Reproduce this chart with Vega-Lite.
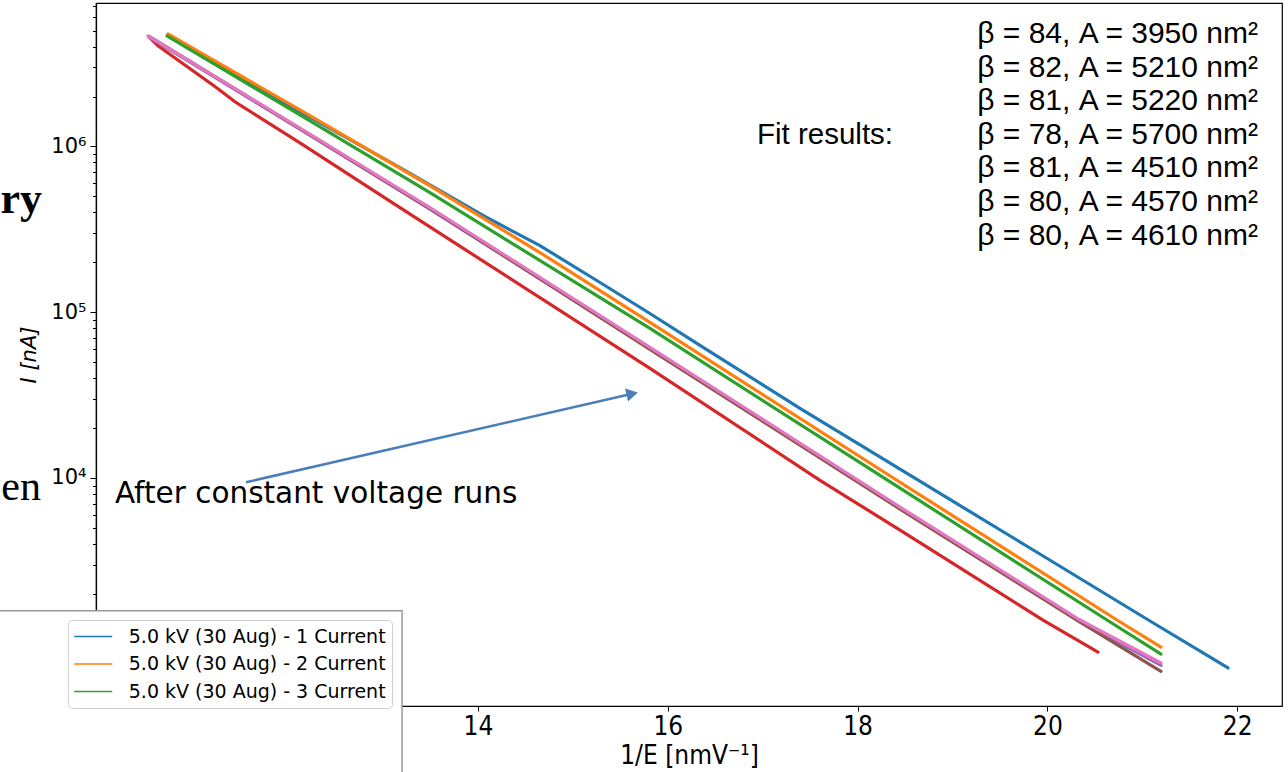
{
  "$schema": "https://vega.github.io/schema/vega-lite/v6.json",
  "width": 1186,
  "height": 703,
  "autosize": {"type": "none"},
  "padding": {"left": 96, "top": 3, "right": 6, "bottom": 66},
  "background": "white",
  "config": {
    "view": {"stroke": "black", "strokeWidth": 1.2},
    "font": "DejaVu Sans"
  },
  "encoding": {
    "x": {
      "field": "x", "type": "quantitative",
      "scale": {"domain": [9.975, 22.472], "nice": false, "zero": false},
      "axis": {
        "title": "1/E [nmV⁻¹]", "values": [14, 16, 18, 20, 22], "grid": false,
        "tickSize": 5, "tickColor": "black", "domainColor": "black", "domainWidth": 1.2,
        "labelFont": "Liberation Sans Narrow, DejaVu Sans Condensed, sans-serif", "labelFontSize": 26, "labelColor": "black", "labelPadding": 2,
        "titleFont": "Liberation Sans Narrow, DejaVu Sans Condensed, sans-serif", "titleFontSize": 26, "titleFontWeight": "normal", "titleColor": "black", "titlePadding": 3,
        "zindex": 0
      }
    },
    "y": {
      "field": "y", "type": "quantitative",
      "scale": {"type": "log", "domain": [421, 7330000], "nice": false},
      "axis": {
        "title": "I [nA]",
        "values": [500, 600, 700, 800, 900, 1000, 2000, 3000, 4000, 5000, 6000, 7000, 8000, 9000, 10000, 20000, 30000, 40000, 50000, 60000, 70000, 80000, 90000, 100000, 200000, 300000, 400000, 500000, 600000, 700000, 800000, 900000, 1000000, 2000000, 3000000, 4000000, 5000000, 6000000, 7000000],
        "labelExpr": "datum.value == 1000000 ? '10⁶' : datum.value == 100000 ? '10⁵' : datum.value == 10000 ? '10⁴' : datum.value == 1000 ? '10³' : ''",
        "grid": false,
        "tickSize": {"condition": {"test": "indexof([1000, 10000, 100000, 1000000], datum.value) >= 0", "value": 6}, "value": 3.5},
        "tickColor": "black", "domainColor": "black", "domainWidth": 1.2,
        "labelFont": "DejaVu Sans", "labelFontSize": 21, "labelColor": "black", "labelPadding": 4,
        "titleFont": "DejaVu Sans", "titleFontSize": 21, "titleFontStyle": "italic", "titleFontWeight": "normal", "titleColor": "black", "titlePadding": 11,
        "zindex": 0
      }
    }
  },
  "layer": [
    {
      "data": {"values": [
        {"series": "5.0 kV (30 Aug) - 1 Current", "x": 10.755, "y": 4650000},
        {"series": "5.0 kV (30 Aug) - 1 Current", "x": 10.965, "y": 3950000},
        {"series": "5.0 kV (30 Aug) - 1 Current", "x": 12.124, "y": 1620000},
        {"series": "5.0 kV (30 Aug) - 1 Current", "x": 13.178, "y": 745000},
        {"series": "5.0 kV (30 Aug) - 1 Current", "x": 14.053, "y": 383000},
        {"series": "5.0 kV (30 Aug) - 1 Current", "x": 14.653, "y": 252000},
        {"series": "5.0 kV (30 Aug) - 1 Current", "x": 15.286, "y": 151000},
        {"series": "5.0 kV (30 Aug) - 1 Current", "x": 15.812, "y": 98200},
        {"series": "5.0 kV (30 Aug) - 1 Current", "x": 16.339, "y": 63100},
        {"series": "5.0 kV (30 Aug) - 1 Current", "x": 17.393, "y": 26300},
        {"series": "5.0 kV (30 Aug) - 1 Current", "x": 18.447, "y": 11300},
        {"series": "5.0 kV (30 Aug) - 1 Current", "x": 19.764, "y": 3940},
        {"series": "5.0 kV (30 Aug) - 1 Current", "x": 21.081, "y": 1371},
        {"series": "5.0 kV (30 Aug) - 1 Current", "x": 21.903, "y": 714},
        {"series": "5.0 kV (30 Aug) - 2 Current", "x": 10.733, "y": 4770000},
        {"series": "5.0 kV (30 Aug) - 2 Current", "x": 12.124, "y": 1660000},
        {"series": "5.0 kV (30 Aug) - 2 Current", "x": 13.494, "y": 579000},
        {"series": "5.0 kV (30 Aug) - 2 Current", "x": 14.653, "y": 229000},
        {"series": "5.0 kV (30 Aug) - 2 Current", "x": 15.812, "y": 86700},
        {"series": "5.0 kV (30 Aug) - 2 Current", "x": 18.447, "y": 9420},
        {"series": "5.0 kV (30 Aug) - 2 Current", "x": 20.733, "y": 1390},
        {"series": "5.0 kV (30 Aug) - 2 Current", "x": 21.197, "y": 955},
        {"series": "5.0 kV (30 Aug) - 3 Current", "x": 10.723, "y": 4640000},
        {"series": "5.0 kV (30 Aug) - 3 Current", "x": 12.124, "y": 1550000},
        {"series": "5.0 kV (30 Aug) - 3 Current", "x": 13.494, "y": 526000},
        {"series": "5.0 kV (30 Aug) - 3 Current", "x": 15.812, "y": 79800},
        {"series": "5.0 kV (30 Aug) - 3 Current", "x": 18.447, "y": 8670},
        {"series": "5.0 kV (30 Aug) - 3 Current", "x": 20.628, "y": 1390},
        {"series": "5.0 kV (30 Aug) - 3 Current", "x": 21.197, "y": 865},
        {"series": "5.0 kV (30 Aug) - 4 Current", "x": 10.544, "y": 4520000},
        {"series": "5.0 kV (30 Aug) - 4 Current", "x": 10.628, "y": 4050000},
        {"series": "5.0 kV (30 Aug) - 4 Current", "x": 11.25, "y": 2250000},
        {"series": "5.0 kV (30 Aug) - 4 Current", "x": 11.439, "y": 1860000},
        {"series": "5.0 kV (30 Aug) - 4 Current", "x": 12.124, "y": 1050000},
        {"series": "5.0 kV (30 Aug) - 4 Current", "x": 13.178, "y": 427000},
        {"series": "5.0 kV (30 Aug) - 4 Current", "x": 15.812, "y": 45800},
        {"series": "5.0 kV (30 Aug) - 4 Current", "x": 17.604, "y": 9680},
        {"series": "5.0 kV (30 Aug) - 4 Current", "x": 18.447, "y": 4840},
        {"series": "5.0 kV (30 Aug) - 4 Current", "x": 19.954, "y": 1390},
        {"series": "5.0 kV (30 Aug) - 4 Current", "x": 20.533, "y": 891},
        {"series": "5.0 kV (30 Aug) - 5 Current", "x": 10.53, "y": 4580000},
        {"series": "5.0 kV (30 Aug) - 5 Current", "x": 12.124, "y": 1270000},
        {"series": "5.0 kV (30 Aug) - 5 Current", "x": 13.494, "y": 419000},
        {"series": "5.0 kV (30 Aug) - 5 Current", "x": 15.812, "y": 60200},
        {"series": "5.0 kV (30 Aug) - 5 Current", "x": 18.447, "y": 6540},
        {"series": "5.0 kV (30 Aug) - 5 Current", "x": 20.344, "y": 1360},
        {"series": "5.0 kV (30 Aug) - 5 Current", "x": 21.197, "y": 740},
        {"series": "5.0 kV (30 Aug) - 6 Current", "x": 10.544, "y": 4580000},
        {"series": "5.0 kV (30 Aug) - 6 Current", "x": 12.124, "y": 1280000},
        {"series": "5.0 kV (30 Aug) - 6 Current", "x": 13.494, "y": 422000},
        {"series": "5.0 kV (30 Aug) - 6 Current", "x": 15.812, "y": 59700},
        {"series": "5.0 kV (30 Aug) - 6 Current", "x": 18.447, "y": 6490},
        {"series": "5.0 kV (30 Aug) - 6 Current", "x": 20.344, "y": 1350},
        {"series": "5.0 kV (30 Aug) - 6 Current", "x": 21.197, "y": 682},
        {"series": "5.0 kV (30 Aug) - 7 Current", "x": 10.523, "y": 4640000},
        {"series": "5.0 kV (30 Aug) - 7 Current", "x": 12.124, "y": 1290000},
        {"series": "5.0 kV (30 Aug) - 7 Current", "x": 13.494, "y": 427000},
        {"series": "5.0 kV (30 Aug) - 7 Current", "x": 15.812, "y": 61400},
        {"series": "5.0 kV (30 Aug) - 7 Current", "x": 18.447, "y": 6670},
        {"series": "5.0 kV (30 Aug) - 7 Current", "x": 20.344, "y": 1390},
        {"series": "5.0 kV (30 Aug) - 7 Current", "x": 21.197, "y": 765}
      ]},
      "mark": {"type": "line", "strokeWidth": 3.2, "strokeCap": "round"},
      "encoding": {
        "color": {
          "field": "series", "type": "nominal",
          "scale": {
            "domain": ["5.0 kV (30 Aug) - 1 Current", "5.0 kV (30 Aug) - 2 Current", "5.0 kV (30 Aug) - 3 Current", "5.0 kV (30 Aug) - 4 Current", "5.0 kV (30 Aug) - 5 Current", "5.0 kV (30 Aug) - 6 Current", "5.0 kV (30 Aug) - 7 Current"],
            "range": ["#1f77b4", "#ff7f0e", "#2ca02c", "#d62728", "#9467bd", "#8c564b", "#e377c2"]
          },
          "legend": {
            "values": ["5.0 kV (30 Aug) - 1 Current", "5.0 kV (30 Aug) - 2 Current", "5.0 kV (30 Aug) - 3 Current"],
            "orient": "none", "legendX": -28, "legendY": 617, "title": null,
            "symbolType": "M-2,0H2", "symbolStrokeWidth": 1.5, "symbolSize": 361, "symbolOffset": 8.75,
            "labelFont": "DejaVu Sans", "labelFontSize": 19, "labelColor": "black", "labelLimit": 400,
            "fillColor": "white", "strokeColor": "#d0d0d0", "cornerRadius": 4, "padding": 6,
            "rowPadding": 6.5, "labelOffset": 25, "zindex": 1
          }
        }
      }
    },
    {
      "data": {"values": [{"x": 8.85, "xe": 13.2, "y": 1581, "ye": 150}]},
      "mark": {"type": "rect", "fill": "white", "stroke": "#999999", "strokeWidth": 1.5},
      "encoding": {"x2": {"field": "xe"}, "y2": {"field": "ye"}}
    },
    {
      "data": {"values": [
        {"x": 22.219, "y": 4770000, "text": "β = 84, A = 3950 nm²"},
        {"x": 22.219, "y": 2990000, "text": "β = 82, A = 5210 nm²"},
        {"x": 22.219, "y": 1870000, "text": "β = 81, A = 5220 nm²"},
        {"x": 22.219, "y": 1170000, "text": "β = 78, A = 5700 nm²"},
        {"x": 22.219, "y": 736000, "text": "β = 81, A = 4510 nm²"},
        {"x": 22.219, "y": 461000, "text": "β = 80, A = 4570 nm²"},
        {"x": 22.219, "y": 289000, "text": "β = 80, A = 4610 nm²"}
      ]},
      "mark": {"type": "text", "align": "right", "baseline": "middle", "font": "Liberation Sans", "fontSize": 30, "color": "black"},
      "encoding": {"text": {"field": "text"}}
    },
    {
      "data": {"values": [{"x": 16.94, "y": 1170000, "text": "Fit results:"}]},
      "mark": {"type": "text", "align": "left", "baseline": "middle", "font": "Liberation Sans", "fontSize": 29.5, "color": "black"},
      "encoding": {"text": {"field": "text"}}
    },
    {
      "data": {"values": [{"x": 10.175, "y": 7980, "text": "After constant voltage runs"}]},
      "mark": {"type": "text", "align": "left", "baseline": "middle", "font": "DejaVu Sans", "fontSize": 29.5, "color": "black"},
      "encoding": {"text": {"field": "text"}}
    },
    {
      "data": {"values": [{"x": 9.406, "y": 394000, "text": "ry"}]},
      "mark": {"type": "text", "align": "right", "baseline": "alphabetic", "font": "Liberation Serif", "fontWeight": "bold", "fontSize": 44, "color": "black"},
      "encoding": {"text": {"field": "text"}}
    },
    {
      "data": {"values": [{"x": 9.395, "y": 7350, "text": "en"}]},
      "mark": {"type": "text", "align": "right", "baseline": "alphabetic", "font": "Liberation Serif", "fontSize": 42, "color": "black"},
      "encoding": {"text": {"field": "text"}}
    },
    {
      "data": {"values": [{"x": 11.555, "y": 9420, "x2": 15.625, "y2": 32200}]},
      "mark": {"type": "rule", "color": "#4a7ebb", "strokeWidth": 2.5},
      "encoding": {"x2": {"field": "x2"}, "y2": {"field": "y2"}}
    },
    {
      "data": {"values": [{"x": 15.625, "y": 32200}]},
      "mark": {"type": "point", "shape": "triangle-right", "filled": true, "size": 180, "angle": -13, "color": "#4a7ebb", "opacity": 1},
      "encoding": {}
    }
  ]
}
